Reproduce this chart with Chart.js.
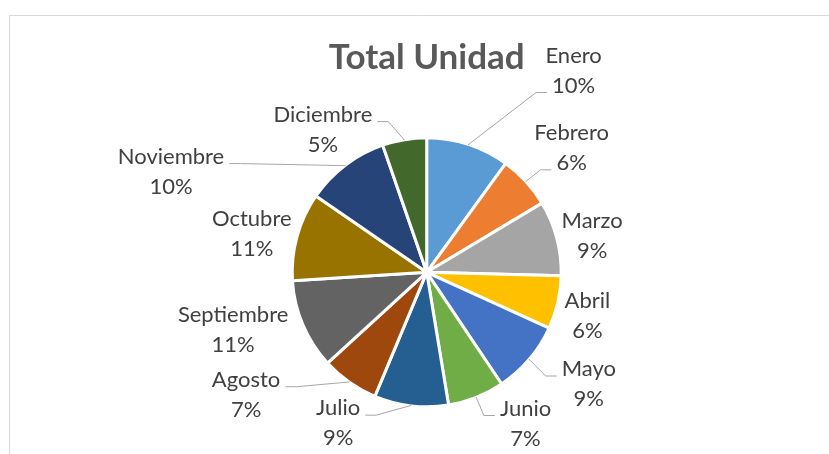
<!DOCTYPE html>
<html>
<head>
<meta charset="utf-8">
<script src="https://cdn.jsdelivr.net/npm/chart.js@4/dist/chart.umd.min.js"></script>
<style>
  html, body { margin: 0; padding: 0; background: #fff; }
  canvas { display: block; }
</style>
</head>
<body>
<canvas id="pieChart" width="829" height="454"></canvas>
<script>
// data
const months = ['Enero','Febrero','Marzo','Abril','Mayo','Junio','Julio','Agosto','Septiembre','Octubre','Noviembre','Diciembre']
const unidades = [10.0, 6.4, 9.0, 6.4, 8.8, 6.8, 8.9, 6.9, 10.8, 10.6, 10.1, 5.3]
const colors = ['#5B9BD5','#ED7D31','#A5A5A5','#FFC000','#4472C4','#70AD47','#255E91','#9E480E','#636363','#997300','#264478','#43682B']

// manual label nudges (like dragged labels in the original), px from the default spot
const labelNudge = [[95,-42],[21,-11],[3,6],[-3,6],[34,3],[37,-5],[-69,-16],[-84,-15],[-39,-8],[-13,6],[-154,33],[-76,23]]

const FONT = 'Lato, "Open Sans", sans-serif'
const LABEL_SIZE = 22
const LINE_GAP = 30
const SLICE_BORDER = 3

// light frame of the chart area (only top and left visible in the crop)
const framePlugin = {
  id: 'frame',
  beforeDraw(chart){
    const ctx = chart.ctx
    ctx.save()
    ctx.strokeStyle = '#d9d9d9'
    ctx.lineWidth = 1
    ctx.beginPath()
    ctx.moveTo(9.5, chart.height)
    ctx.lineTo(9.5, 15.5)
    ctx.lineTo(chart.width, 15.5)
    ctx.stroke()
    ctx.restore()
  }
}

// outside labels "Mes / xx%" with leader lines
const outsideLabels = {
  id: 'outsideLabels',
  afterDatasetsDraw(chart){
    const ctx = chart.ctx
    const meta = chart.getDatasetMeta(0)
    const data = chart.data.datasets[0].data
    const total = data.reduce((a,b)=>a+b,0)
    ctx.save()
    ctx.font = LABEL_SIZE + 'px ' + FONT
    ctx.textAlign = 'center'
    ctx.textBaseline = 'middle'
    meta.data.forEach((arc, i) => {
      const p = arc.getProps(['x','y','startAngle','endAngle','outerRadius'], true)
      const mid = (p.startAngle + p.endAngle) / 2
      const rv = p.outerRadius - SLICE_BORDER / 2
      const dx = Math.cos(mid), dy = Math.sin(mid)
      const lx = p.x + dx * (rv + 35) + labelNudge[i][0]
      const ly = p.y + dy * (rv + 35) + labelNudge[i][1]
      const lines = [chart.data.labels[i], Math.round(data[i] / total * 100) + '%']

      // leader line
      const ex = p.x + dx * (rv + 1), ey = p.y + dy * (rv + 1)
      const li = ey > ly + LINE_GAP ? 1 : 0
      const lineY = ly + (li ? LINE_GAP / 2 : -LINE_GAP / 2) + 7
      const w = ctx.measureText(lines[li]).width
      const sx = ex > lx ? lx + w / 2 + 5 : lx - w / 2 - 5
      const kx = ex > lx ? sx + 11 : sx - 11
      if (Math.hypot(ex - sx, ey - lineY) > 20) {
        ctx.strokeStyle = '#a6a6a6'
        ctx.lineWidth = 1
        ctx.beginPath()
        ctx.moveTo(sx, lineY)
        ctx.lineTo(kx, lineY)
        ctx.lineTo(ex, ey)
        ctx.stroke()
      }

      ctx.fillStyle = '#404040'
      ctx.fillText(lines[0], lx, ly - LINE_GAP / 2)
      ctx.fillText(lines[1], lx, ly + LINE_GAP / 2)
    })
    ctx.restore()
  }
}

new Chart(document.getElementById('pieChart').getContext('2d'), {
  type: 'pie',
  data: {
    labels: months,
    datasets: [{
      data: unidades,
      backgroundColor: colors,
      borderColor: '#ffffff',
      borderWidth: SLICE_BORDER,
      hoverBorderWidth: SLICE_BORDER,
      offset: 0,
      hoverOffset: 0
    }]
  },
  options: {
    responsive: false,
    animation: false,
    devicePixelRatio: 1,
    layout: { padding: { top: 37, bottom: 45.7, left: 24.4, right: 0 } },
    plugins: {
      legend: { display: false },
      tooltip: { enabled: false },
      title: {
        display: true,
        text: 'Total Unidad',
        color: '#595959',
        font: { family: FONT, size: 35, weight: 'bold' },
        padding: { top: 0, bottom: 57.3 }
      }
    }
  },
  plugins: [framePlugin, outsideLabels]
})
</script>
</body>
</html>
